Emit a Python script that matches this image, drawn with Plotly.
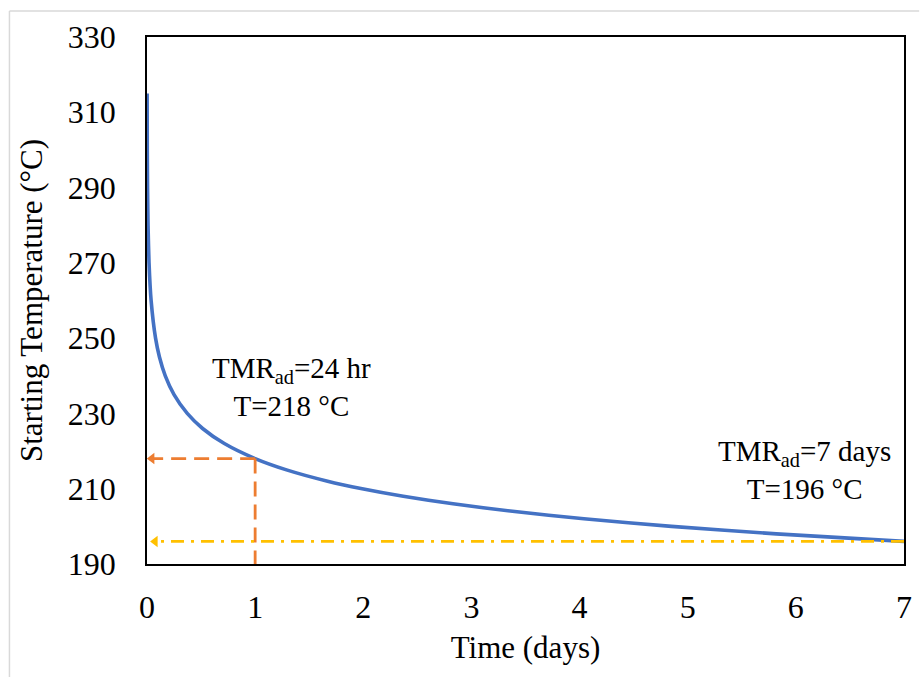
import plotly.graph_objects as go

# Curve: time (days) vs starting temperature (°C)
time_days = [0.0011, 0.0026, 0.0050, 0.0096, 0.0188, 0.038, 0.079, 0.115, 0.169,
             0.250, 0.372, 0.514, 0.715, 1.0, 1.29, 1.67, 1.99, 2.37, 2.83, 3.38,
             4.04, 4.85, 5.82, 7.0]
temp_c = [315, 300, 290, 280, 270, 260, 250, 245, 240,
          235, 230, 226, 222, 218, 215, 212, 210, 208, 206, 204,
          202, 200, 198, 196]

# Guide lines
tmr24_time, tmr24_temp = 1, 218
tmr7_time, tmr7_temp = 7, 196
y_min, y_max = 190, 330
x_min, x_max = 0, 7

x_ticks = [0, 1, 2, 3, 4, 5, 6, 7]
y_ticks = [190, 210, 230, 250, 270, 290, 310, 330]

FONT = "Liberation Serif"
BLUE = "#4472C4"
ORANGE = "#ED7D31"
YELLOW = "#FFC000"

fig = go.Figure()

fig.add_trace(go.Scatter(x=time_days, y=temp_c, mode="lines",
                         line=dict(color=BLUE, width=3.6, shape="spline", smoothing=0.6),
                         hoverinfo="skip", showlegend=False))

# orange horizontal dashed to y axis
fig.add_trace(go.Scatter(x=[tmr24_time, 0.06], y=[tmr24_temp, tmr24_temp], mode="lines",
                         line=dict(color=ORANGE, width=2.8, dash="15px,8px"),
                         hoverinfo="skip", showlegend=False))
fig.add_trace(go.Scatter(x=[0.045], y=[tmr24_temp], mode="markers",
                         marker=dict(symbol="triangle-left", size=10, color=ORANGE),
                         hoverinfo="skip", showlegend=False))
# orange vertical dashed to x axis
fig.add_trace(go.Scatter(x=[tmr24_time, tmr24_time], y=[tmr24_temp, y_min], mode="lines",
                         line=dict(color=ORANGE, width=2.8, dash="15px,8px"),
                         hoverinfo="skip", showlegend=False))
# yellow dash-dot line
fig.add_trace(go.Scatter(x=[tmr7_time, 0.09], y=[tmr7_temp, tmr7_temp], mode="lines",
                         line=dict(color=YELLOW, width=2.8, dash="13px,7px,3px,7px"),
                         hoverinfo="skip", showlegend=False))
fig.add_trace(go.Scatter(x=[0.075], y=[tmr7_temp], mode="markers",
                         marker=dict(symbol="triangle-left", size=10, color=YELLOW),
                         hoverinfo="skip", showlegend=False))

fig.add_annotation(x=1.34, y=237, xref="x", yref="y", showarrow=False,
                   text="TMR<sub>ad</sub>=24 hr<br>T=218 °C",
                   font=dict(family=FONT, size=29, color="black"), align="center")
fig.add_annotation(x=6.08, y=215, xref="x", yref="y", showarrow=False,
                   text="TMR<sub>ad</sub>=7 days<br>T=196 °C",
                   font=dict(family=FONT, size=29, color="black"), align="center")

# outer light gray frame (top and left visible)
fig.add_shape(type="line", xref="paper", yref="paper", x0=-0.1817, x1=-0.1817,
              y0=-0.215, y1=1.0494, line=dict(color="#D9D9D9", width=1.5))
fig.add_shape(type="line", xref="paper", yref="paper", x0=-0.1817, x1=1.02,
              y0=1.0494, y1=1.0494, line=dict(color="#D9D9D9", width=1.5))

axis_common = dict(showgrid=False, zeroline=False, showline=True, linecolor="black",
                   linewidth=1.5, mirror=True, ticks="",
                   tickfont=dict(family=FONT, size=32, color="black"))

fig.update_layout(
    width=921, height=677,
    margin=dict(l=147, r=9, t=37, b=113),
    paper_bgcolor="white", plot_bgcolor="white",
    showlegend=False,
    xaxis=dict(range=[x_min, x_max], tickvals=x_ticks, ticklabelstandoff=14,
               title=dict(text="Time (days)", font=dict(family=FONT, size=31, color="black"),
                          standoff=12),
               **axis_common),
    yaxis=dict(range=[y_min, y_max], tickvals=y_ticks, ticklabelstandoff=23,
               title=dict(text="Starting Temperature (°C)",
                          font=dict(family=FONT, size=31, color="black"), standoff=16),
               **axis_common),
)

fig.write_html("out.html")
